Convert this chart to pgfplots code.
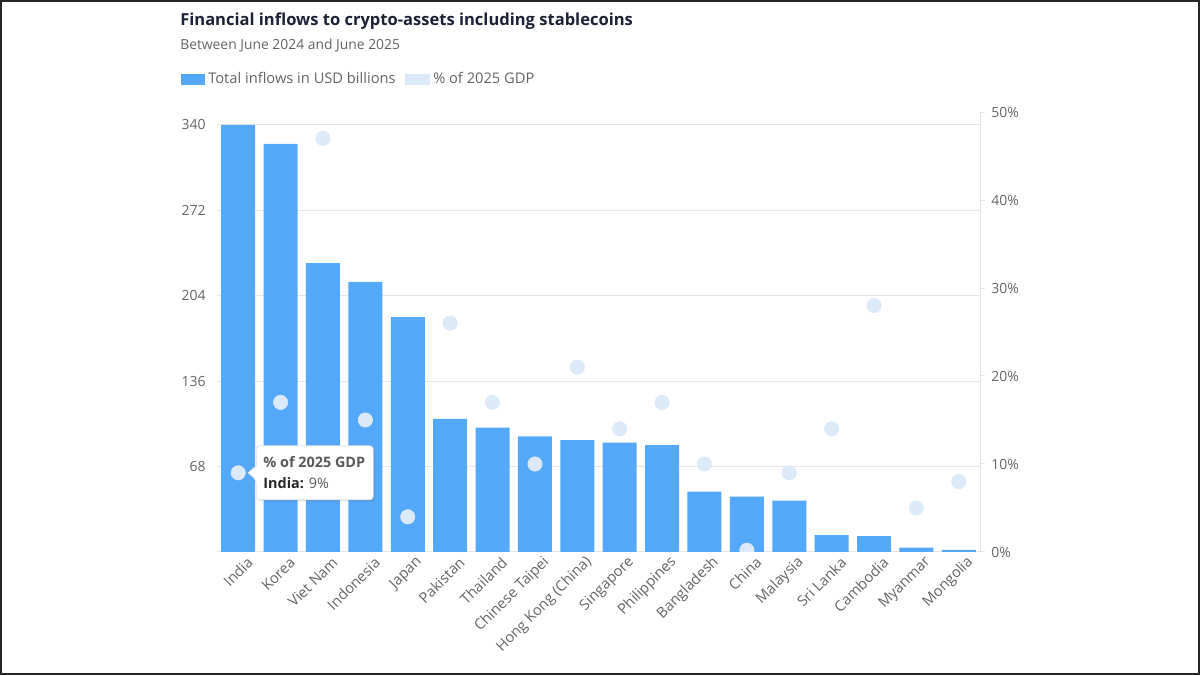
\documentclass[border=0pt]{standalone}
\usepackage{pgfplots}
\pgfplotsset{compat=1.18}
\usepackage{fontspec}
\setmainfont{Open Sans}

\definecolor{barblue}{RGB}{84,168,250}
\definecolor{dotblue}{RGB}{219,233,249}
\definecolor{gridgray}{RGB}{230,230,230}
\definecolor{ticktext}{RGB}{102,102,102}
\definecolor{titletext}{RGB}{28,33,51}
\definecolor{subtext}{RGB}{100,100,100}

\begin{document}
\begin{tikzpicture}[x=0.75pt,y=0.75pt]
\fill[white] (0,0) rectangle (1200,675);
\path[use as bounding box] (0,0) rectangle (1200,675);

% heading
\node[anchor=base west, inner sep=0pt, text=titletext, font=\fontsize{12.4pt}{14pt}\selectfont\bfseries]
  at (180,649) {Financial inflows to crypto-assets including stablecoins};
\node[anchor=base west, inner sep=0pt, text=subtext, font=\fontsize{10.4pt}{12pt}\selectfont]
  at (180,625) {Between June 2024 and June 2025};

% legend
\fill[barblue] (181,590) rectangle (205,601);
\node[anchor=base west, inner sep=0pt, text=subtext, font=\fontsize{11pt}{13pt}\selectfont]
  at (208,591) {Total inflows in USD billions};
\fill[dotblue] (405,590) rectangle (430,601);
\node[anchor=base west, inner sep=0pt, text=subtext, font=\fontsize{11pt}{13pt}\selectfont]
  at (433,591) {\% of 2025 GDP};

% inflows in USD billions
\begin{axis}[
  at={(162.75pt,92.25pt)}, anchor=south west,
  scale only axis, width=572.25pt, height=330pt,
  xmin=-0.5, xmax=17.5, ymin=0, ymax=350.3,
  ybar, bar width=25.5pt,
  axis line style={draw=none},
  major tick length=0pt,
  ytick={68,136,204,272,340},
  extra y ticks={0}, extra y tick labels={},
  ymajorgrids, grid style={gridgray, line width=0.75pt},
  extra y tick style={grid style={gridgray, line width=0.75pt}},
  xtick={0,...,17},
  xticklabels={India,Korea,Viet Nam,Indonesia,Japan,Pakistan,Thailand,Chinese Taipei,{Hong Kong (China)},Singapore,Philippines,Bangladesh,China,Malaysia,Sri Lanka,Cambodia,Myanmar,Mongolia},
  xticklabel style={rotate=45, anchor=east, inner sep=0pt, xshift=2.25pt, yshift=-10.5pt,
    text=ticktext, font=\fontsize{11pt}{13pt}\selectfont},
  yticklabel style={anchor=east, inner sep=0pt, xshift=-8.25pt,
    text=ticktext, font=\fontsize{10.5pt}{12pt}\selectfont},
  /pgf/number format/assume math mode=true,
]
\addplot[fill=barblue, draw=none, bar shift=0pt] coordinates {
  (0,340) (1,325) (2,230) (3,215) (4,187) (5,106) (6,99) (7,92) (8,89)
  (9,87) (10,85) (11,48) (12,44) (13,41) (14,13.5) (15,12.7) (16,3.5) (17,1.6)
};
\end{axis}

% share of 2025 GDP
\begin{axis}[
  at={(162.75pt,92.25pt)}, anchor=south west,
  scale only axis, width=572.25pt, height=330pt,
  xmin=-0.5, xmax=17.5, ymin=0, ymax=50,
  axis x line=none,
  axis y line*=right,
  y axis line style={gridgray, line width=0.75pt},
  ytick={0,10,20,30,40,50},
  tick align=outside, major tick length=3.75pt,
  ytick style={gridgray, line width=0.75pt},
  yticklabel={\pgfmathprintnumber{\tick}\%},
  yticklabel style={anchor=west, inner sep=0pt, xshift=4.5pt,
    text=ticktext, font=\fontsize{10.5pt}{12pt}\selectfont},
  /pgf/number format/assume math mode=true,
  clip marker paths=true,
]
\addplot[only marks, mark=*, mark size=5.4pt, color=dotblue] coordinates {
  (0,9) (1,17) (2,47) (3,15) (4,4) (5,26) (6,17) (7,10) (8,21)
  (9,14) (10,17) (11,10) (12,0.2) (13,9) (14,14) (15,28) (16,5) (17,8)
};
\coordinate (tip) at (axis cs:0,9);
\end{axis}

% hover label for India
\begin{scope}[shift={(tip)}]
  \fill[black, opacity=0.10, rounded corners=2.5pt]
    (19.5,5.5) -- (19.5,25.5) -- (136.5,25.5) -- (136.5,-28.5) -- (19.5,-28.5) -- (19.5,-8.5) [sharp corners] -- (11.5,-1.5) -- cycle;
  \filldraw[fill=white, draw=black!12, line width=0.6pt, rounded corners=2.5pt]
    (18,7) -- (18,27) -- (135,27) -- (135,-27) -- (18,-27) -- (18,-7) [sharp corners] -- (10,0) -- cycle;
  \node[anchor=base west, inner sep=0pt, text=black!65, font=\fontsize{10.8pt}{13pt}\selectfont\bfseries]
    at (25,5) {\% of 2025 GDP};
  \node[anchor=base west, inner sep=0pt, text=black!65, font=\fontsize{10.8pt}{13pt}\selectfont]
    at (25,-16) {\textbf{\color{black!85}India:} 9\%};
\end{scope}

% frame
\draw[black!85, line width=1.5pt] (1,1) rectangle (1199,674);
\end{tikzpicture}
\end{document}
